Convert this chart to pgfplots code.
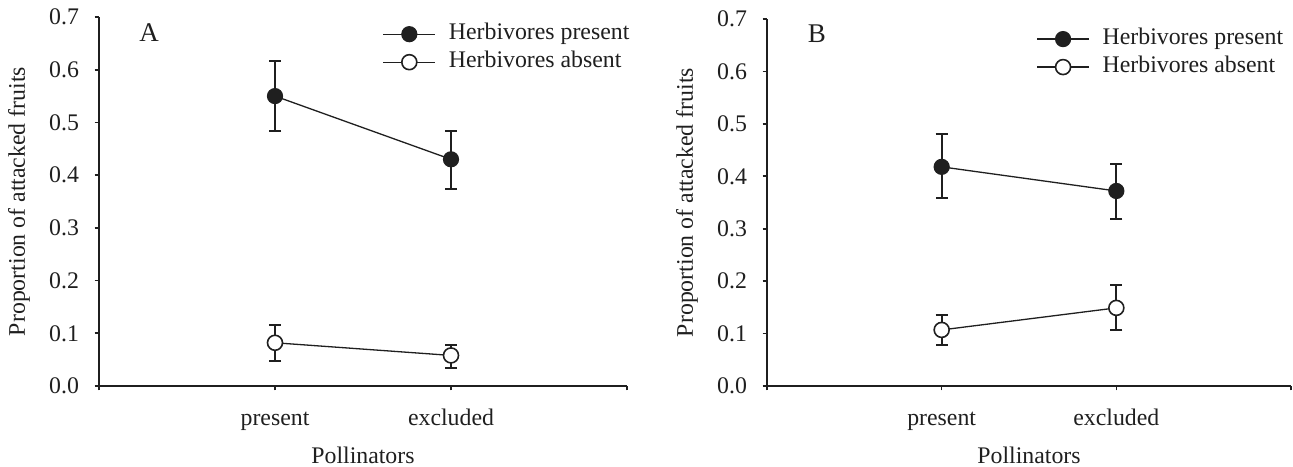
\documentclass[border=0pt]{standalone}
\usepackage{fontspec}
\setmainfont{Liberation Serif}
\usepackage{pgfplots}
\pgfplotsset{compat=1.18}
\definecolor{ink}{gray}{0.12}
\pgfplotsset{
  panel/.style={
    scale only axis,
    axis lines=left,
    axis line style={-, line width=0.8pt, ink},
    xmin=0, xmax=3, ymin=0, ymax=0.7,
    xtick={0,1,2,3},
    xticklabels={,present,excluded,},
    ytick={0,0.1,0.2,0.3,0.4,0.5,0.6,0.7},
    yticklabel style={xshift=-4.3pt, /pgf/number format/.cd, fixed, fixed zerofill, precision=1, assume math mode=true},
    tick align=outside,
    major tick length=2.2pt,
    tick style={line width=0.8pt, ink},
    tick label style={font=\fontsize{11.9pt}{13.5pt}\selectfont, text=ink},
    xticklabel style={anchor=base, yshift=-17.7pt},
    label style={font=\fontsize{11.9pt}{13.5pt}\selectfont, text=ink},
    xlabel={Pollinators},
    ylabel={Proportion of attacked fruits},
    xlabel style={at={(axis description cs:0.5,0)}, anchor=base, yshift=-38.5pt},
    ylabel style={at={(axis description cs:0,0.5)}, anchor=center, yshift=40pt},
    clip=false,
    legend image code/.code={\draw[##1, mark repeat=2, mark phase=2] plot coordinates {(0pt,0pt) (13pt,0pt) (26pt,0pt)};},
    legend style={draw=none, fill=none, anchor=north west, inner sep=0pt, row sep=3.5pt,
      font=\fontsize{11.9pt}{13.5pt}\selectfont, text=ink,
      nodes={inner sep=0pt, text height=8pt, text depth=2.5pt}},
    legend cell align=left,
  },
  filledser/.style={line width=0.65pt, ink, mark=*, mark size=3.75pt,
    mark options={fill=ink, draw=ink, line width=0.6pt},
    error bars/.cd, y dir=both, y explicit,
    error bar style={line width=1pt, ink},
    error mark options={rotate=90, mark size=3pt, line width=1pt, ink}},
  openser/.style={line width=0.65pt, ink, mark=*, mark size=3.75pt,
    mark options={fill=white, draw=ink, line width=0.8pt},
    error bars/.cd, y dir=both, y explicit,
    error bar style={line width=1pt, ink},
    error mark options={rotate=90, mark size=3pt, line width=1pt, ink}},
}
\begin{document}
\begin{tikzpicture}
\begin{axis}[panel, width=264pt, height=184.5pt,
  legend style={at={(axis description cs:0.5365,0.983)}, legend columns=1, column sep=6.5pt}]
\addplot+[filledser] coordinates {(1,0.550) += (0,0.067) -= (0,0.067) (2,0.430) += (0,0.054) -= (0,0.056)};
\addlegendentry{Herbivores present}
\addplot+[openser] coordinates {(1,0.082) += (0,0.033) -= (0,0.034) (2,0.058) += (0,0.020) -= (0,0.023)};
\addlegendentry{Herbivores absent}
\node[font=\fontsize{13.5pt}{15pt}\selectfont, text=ink] at (axis cs:0.285,0.67) {A};
\end{axis}
\begin{axis}[panel, at={(334pt,0pt)}, width=262pt, height=183.5pt,
  legend style={at={(axis description cs:0.5134,0.975)}, legend columns=1, column sep=6.5pt}]
\addplot+[filledser] coordinates {(1,0.418) += (0,0.062) -= (0,0.059) (2,0.372) += (0,0.052) -= (0,0.053)};
\addlegendentry{Herbivores present}
\addplot+[openser] coordinates {(1,0.107) += (0,0.029) -= (0,0.029) (2,0.149) += (0,0.044) -= (0,0.043)};
\addlegendentry{Herbivores absent}
\node[font=\fontsize{13.5pt}{15pt}\selectfont, text=ink] at (axis cs:0.286,0.672) {B};
\end{axis}
\pgfresetboundingbox
\path (-49.5pt,-40pt) rectangle (597pt,193pt);
\end{tikzpicture}
\end{document}
